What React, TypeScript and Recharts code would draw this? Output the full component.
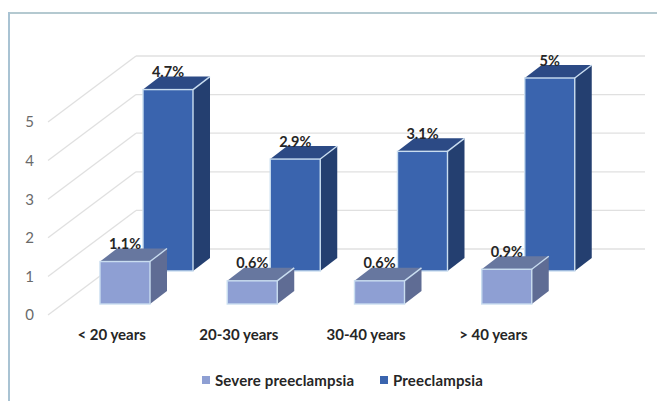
import React from "react";
import { BarChart, Bar, XAxis, YAxis, CartesianGrid, Legend, LabelList } from "recharts";

const categories = ["< 20 years", "20-30 years", "30-40 years", "> 40 years"];
const severeValues = [1.1, 0.6, 0.6, 0.9];
const preeclampsiaValues = [4.7, 2.9, 3.1, 5];
const yTicks = [0, 1, 2, 3, 4, 5];
const seriesNames = ["Severe preeclampsia", "Preeclampsia"];
const legendColors = ["#8E9FD3", "#3A64AE"];

const rows = categories.map((category, i) => ({
  category,
  severe: severeValues[i],
  preeclampsia: preeclampsiaValues[i],
}));

const FONT = "Lato, sans-serif";
const EDGE = "#C9DDF0";
const DEPTH_X = 17;
const DEPTH_Y = 13;

type Palette = { face: string; top: string; side: string; dx: number; dy: number };
const severeStyle: Palette = { face: "#8E9FD3", top: "#67779F", side: "#5F6C94", dx: 13, dy: -11 };
const preStyle: Palette = { face: "#3A64AE", top: "#2C4A85", side: "#243F70", dx: 56, dy: -44 };

const box3D = (p: Palette) => (props: any) => {
  const x = props.x + p.dx;
  const y = props.y + p.dy;
  const w = props.width;
  const h = props.height;
  return (
    <g>
      <polygon points={`${x},${y} ${x + w},${y} ${x + w + DEPTH_X},${y - DEPTH_Y} ${x + DEPTH_X},${y - DEPTH_Y}`} fill={p.top} />
      <polygon points={`${x + w},${y} ${x + w + DEPTH_X},${y - DEPTH_Y} ${x + w + DEPTH_X},${y + h - DEPTH_Y} ${x + w},${y + h}`} fill={p.side} />
      <rect x={x} y={y} width={w} height={h} fill={p.face} stroke={EDGE} strokeWidth={1.4} />
      <line x1={x + w} y1={y} x2={x + w + DEPTH_X} y2={y - DEPTH_Y} stroke={EDGE} strokeWidth={1.4} />
    </g>
  );
};

const valueLabel = (p: Palette) => (props: any) => (
  <text
    x={props.x + p.dx + props.width / 2}
    y={props.y + p.dy - 18}
    textAnchor="middle"
    dominantBaseline="central"
    fontFamily={FONT}
    fontSize={14.5}
    fontWeight={700}
    fill="#262626"
  >
    {`${props.value}%`}
  </text>
);

const gridLine = (props: any) => {
  const { x1, x2, y1 } = props;
  return (
    <g>
      <line x1={x1} y1={y1} x2={x1 + 88} y2={y1 - 66} stroke="#E0E0E0" strokeWidth={1.3} />
      <line x1={x1 + 88} y1={y1 - 66} x2={x2 + 88} y2={y1 - 66} stroke="#E0E0E0" strokeWidth={1.3} />
    </g>
  );
};

const LegendBox = () => (
  <div style={{ position: "relative", height: 20, fontFamily: FONT, fontWeight: 700, fontSize: 15, letterSpacing: 0.15, color: "#262626" }}>
    {seriesNames.map((name, i) => (
      <div key={name} style={{ position: "absolute", top: 0, left: i === 0 ? 202 : 380, display: "flex", alignItems: "center", height: 20, whiteSpace: "nowrap" }}>
        <span style={{ display: "inline-block", width: 8, height: 8, background: legendColors[i], marginRight: 5 }} />
        <span>{name}</span>
      </div>
    ))}
  </div>
);

export default function App() {
  return (
    <div style={{ position: "fixed", left: 0, top: 0, width: 657, height: 401, background: "#fff", overflow: "hidden" }}>
      <div style={{ position: "absolute", left: 8, top: 12, width: 649, height: 2, background: "#B4C9D0" }} />
      <div style={{ position: "absolute", left: 8, top: 12, width: 2, height: 389, background: "#A9C3D3" }} />
      <BarChart
        width={657}
        height={401}
        data={rows}
        margin={{ top: 122, right: 100, bottom: 56, left: 0 }}
        barSize={50}
        barGap={-50}
      >
        <CartesianGrid vertical={false} horizontal={gridLine} />
        <XAxis
          dataKey="category"
          axisLine={false}
          tickLine={false}
          tick={{ fill: "#262626", fontSize: 15, fontWeight: 700, fontFamily: FONT }}
          tickMargin={8}
          interval={0}
        />
        <YAxis
          width={48}
          domain={[0, 5]}
          ticks={yTicks}
          axisLine={false}
          tickLine={false}
          tick={{ fill: "#6a6a6a", fontSize: 15, fontFamily: FONT }}
          tickMargin={8}
        />
        <Legend verticalAlign="middle" wrapperStyle={{ position: "absolute", left: 0, top: 370, width: 657 }} content={LegendBox} />
        <Bar dataKey="preeclampsia" name={seriesNames[1]} isAnimationActive={false} shape={box3D(preStyle)}>
          <LabelList dataKey="preeclampsia" content={valueLabel(preStyle)} />
        </Bar>
        <Bar dataKey="severe" name={seriesNames[0]} isAnimationActive={false} shape={box3D(severeStyle)}>
          <LabelList dataKey="severe" content={valueLabel(severeStyle)} />
        </Bar>
      </BarChart>
    </div>
  );
}
